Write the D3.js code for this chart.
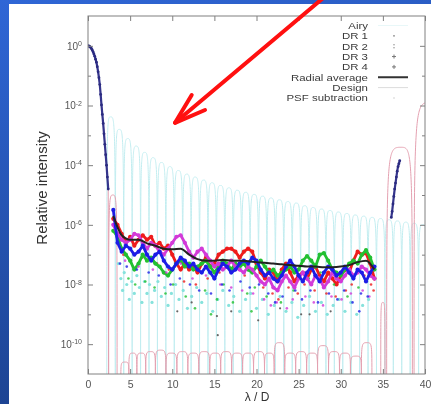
<!DOCTYPE html>
<html><head><meta charset="utf-8">
<script src="https://cdn.jsdelivr.net/npm/d3@7/dist/d3.min.js"></script>
<style>html,body{margin:0;padding:0;background:#fff;overflow:hidden}text{font-family:"Liberation Sans",Arial,sans-serif}</style>
</head><body>
<svg id="c" width="431" height="404"></svg>
<script>
// ---------------- DATA (values are log10 of relative intensity) ----------------
const xTicks = [0,5,10,15,20,25,30,35,40];
const yTickExp = [0,-2,-4,-6,-8,-10];
const yMinorExp = [-1,-3,-5,-7,-9];
const legendLabels = ["Airy","DR 1","DR 2","DR 3","DR 4","Radial average","Design","PSF subtraction"];

// measured core (dark points)
const coreX   = [0,0.1,0.2,0.3,0.4,0.5,0.6,0.7,0.8,0.9,1.0,1.1,1.2,1.3,1.4,1.5,1.6,1.7,1.8,1.9,2.0,2.1,2.2,2.3,2.4];
const coreLog = [0,-0.005,-0.02,-0.05,-0.09,-0.14,-0.2,-0.27,-0.35,-0.45,-0.55,-0.7,-0.87,-1.07,-1.3,-1.63,-1.98,-2.3,-2.6,-2.95,-3.3,-3.65,-4.0,-4.4,-4.8];
const outerX   = [36.0,36.1,36.2,36.3,36.4,36.5,36.6,36.7,36.8,36.9,37.0];
const outerLog = [-5.75,-5.55,-5.3,-5.05,-4.8,-4.6,-4.4,-4.2,-4.05,-3.95,-3.85];

// Airy rings (zeros and ring maxima)
const airyZeros = [2.23,3.24,4.24,5.24,6.24,7.24,8.24,9.24,10.24,11.24,12.24,13.24,14.24,15.24,16.24,17.24,18.24,19.24,20.24,21.24,22.24,23.24,24.24,25.24,26.24,27.24,28.24,29.24,30.24,31.24,32.24,33.24,34.24,35.24,36.24,37.24,38.24,39.24,40.24];
const airyPeakX = [2.68,3.70,4.71,5.72,6.72,7.72,8.72,9.72,10.72,11.72,12.72,13.72,14.72,15.72,16.72,17.72,18.72,19.72,20.72,21.72,22.72,23.72,24.72,25.72,26.72,27.72,28.72,29.72,30.72,31.72,32.72,33.72,34.72,35.72,36.72,37.72,38.72,39.72];
const airyPeakLog = [-2.38,-2.80,-3.11,-3.36,-3.57,-3.75,-3.91,-4.05,-4.18,-4.30,-4.40,-4.50,-4.59,-4.68,-4.76,-4.84,-4.91,-4.98,-5.04,-5.10,-5.16,-5.22,-5.27,-5.36,-5.42,-5.47,-5.52,-5.57,-5.62,-5.67,-5.71,-5.75,-5.79,-5.83,-5.87,-5.91,-5.95,-5.99];

// Design PSF: core then lobes
const designCoreX   = [0,0.2,0.4,0.6,0.8,1.0,1.2,1.4,1.6,1.8,2.0,2.2,2.4,2.45];
const designCoreLog = [0,-0.02,-0.09,-0.2,-0.35,-0.55,-0.87,-1.3,-1.98,-2.6,-3.3,-4.0,-4.8,-12];
const designLobeL   = [2.45,3.9,4.85,5.8,6.85,8.0,9.25,10.55,11.85,13.15,14.45,15.75,17.05,18.35,19.65,20.95,22.1,23.35,24.65,25.95,27.25,28.55,29.85,31.15,32.45,34.75,35.45,38.7];
const designLobePX  = [2.95,4.4,5.3,6.3,7.4,8.6,9.9,11.2,12.5,13.8,15.1,16.4,17.7,19.0,20.3,21.5,22.7,24.0,25.3,26.6,27.9,29.2,30.5,31.8,33.1,35.0,37.15,40.6];
const designLobeLog = [-5.0,-10.6,-10.3,-10.3,-10.25,-10.2,-10.3,-10.25,-10.3,-10.25,-10.3,-10.25,-10.3,-10.3,-10.25,-10.3,-9.95,-10.3,-10.25,-10.3,-10.05,-10.25,-10.3,-10.4,-9.95,-8.6,-3.4,-1.9];
const designLobeR   = [3.45,4.85,5.8,6.85,8.0,9.25,10.55,11.85,13.15,14.45,15.75,17.05,18.35,19.65,20.95,22.1,23.35,24.65,25.95,27.25,28.55,29.85,31.15,32.45,33.7,35.25,38.5,42.5];

// Dark-hole profiles of the four data runs
const drX = [3.0,3.5,4.0,4.5,5.0,5.5,6.0,6.5,7.0,7.5,8.0,8.5,9.0,9.5,10.0,10.5,11.0,11.5,12.0,12.5,13.0,13.5,14.0,14.5,15.0,15.5,16.0,16.5,17.0,17.5,18.0,18.5,19.0,19.5,20.0,20.5,21.0,21.5,22.0,22.5,23.0,23.5,24.0,24.5,25.0,25.5,26.0,26.5,27.0,27.5,28.0,28.5,29.0,29.5,30.0,30.5,31.0,31.5,32.0,32.5,33.0,33.5,34.0];
const dr1 = [-5.8,-6.0,-6.3,-6.6,-6.4,-6.7,-6.5,-6.35,-6.5,-6.4,
             -6.7,-6.6,-6.8,-6.7,-7.0,-7.3,-7.5,-7.3,-7.5,-7.4,
             -7.6,-7.3,-7.1,-7.4,-7.3,-7.0,-6.9,-6.8,-6.8,-6.9,
             -7.1,-6.9,-6.8,-6.9,-7.3,-7.6,-7.8,-7.5,-7.6,-7.9,
             -7.5,-7.3,-7.6,-7.9,-7.7,-7.6,-7.8,-7.5,-7.4,-7.7,
             -7.9,-7.6,-7.8,-8.0,-7.7,-7.5,-7.6,-7.2,-6.9,-7.0,
             -6.95,-7.3,-7.8];
const dr2 = [-6.2,-6.4,-6.8,-7.0,-7.2,-7.5,-7.3,-7.0,-7.2,-7.1,
             -7.3,-7.4,-7.6,-7.7,-7.5,-7.3,-7.2,-7.4,-7.3,-7.5,
             -7.4,-7.3,-7.2,-7.4,-7.6,-7.4,-7.2,-7.3,-7.5,-7.3,
             -7.4,-7.3,-7.5,-7.6,-7.4,-7.2,-7.4,-7.6,-7.5,-7.7,
             -7.6,-7.5,-7.4,-7.6,-7.5,-7.2,-7.05,-7.2,-7.4,-7.0,
             -6.95,-7.2,-7.5,-7.6,-7.7,-7.5,-7.3,-7.2,-7.3,-7.0,
             -6.85,-7.1,-7.5];
const dr3 = [-5.5,-6.6,-6.9,-6.7,-6.8,-7.0,-6.9,-6.7,-7.0,-7.2,
             -7.0,-6.9,-7.2,-7.4,-7.5,-7.3,-7.1,-7.2,-7.4,-7.3,
             -7.5,-7.6,-7.4,-7.6,-7.8,-7.5,-7.3,-7.4,-7.6,-7.5,
             -7.3,-7.2,-7.3,-7.1,-7.2,-7.5,-7.7,-7.6,-7.8,-7.9,
             -7.7,-7.4,-7.2,-7.4,-7.7,-7.9,-7.6,-7.4,-7.7,-7.9,
             -7.6,-7.4,-7.5,-7.7,-7.6,-7.4,-7.6,-7.8,-7.5,-7.6,
             -7.9,-7.6,-7.4];
const dr4 = [-6.0,-6.3,-6.5,-6.6,-6.5,-6.3,-6.35,-6.6,-6.8,-6.6,
             -6.7,-6.9,-7.0,-6.8,-6.6,-6.4,-6.35,-6.6,-6.9,-7.1,
             -6.9,-6.8,-7.0,-7.2,-7.4,-7.3,-7.5,-7.4,-7.2,-7.4,
             -7.5,-7.6,-7.4,-7.5,-7.7,-7.9,-8.0,-7.8,-8.1,-8.2,
             -7.9,-7.7,-7.9,-8.1,-7.8,-7.6,-7.8,-8.0,-7.7,-7.8,
             -8.1,-7.9,-7.6,-7.8,-7.9,-7.7,-7.5,-7.7,-7.6,-7.4,
             -7.5,-7.7,-7.8];

// scattered low points of each run [x, log10]
const dr1Low = [[4.2,-7.0],[5.1,-7.2],[6.4,-7.1],[8.2,-7.3],[9.6,-7.5],[11.4,-7.9],[12.8,-8.0],[14.2,-7.8],[15.6,-7.6],[17.4,-7.5],[18.6,-7.7],[20.8,-8.1],[21.9,-8.3],[22.6,-8.5],[23.8,-8.1],[24.9,-8.3],[25.7,-8.0],[26.9,-8.2],[28.3,-8.3],[29.4,-8.4],[30.6,-8.2],[31.3,-8.0],[32.8,-7.7],[33.6,-8.0],[33.9,-8.2]];
const dr2Low = [[4.8,-7.8],[5.6,-8.0],[6.8,-7.9],[7.9,-8.1],[9.2,-8.3],[10.1,-8.0],[11.6,-8.4],[12.7,-8.8],[13.9,-8.2],[15.3,-8.5],[16.1,-8.0],[17.2,-8.6],[18.9,-8.3],[19.8,-8.1],[21.2,-8.4],[22.9,-8.6],[24.4,-8.2],[26.2,-7.8],[27.6,-7.6],[29.2,-8.0],[30.8,-8.4],[32.1,-8.1],[33.3,-7.7],[14.6,-9.0],[19.4,-8.9]];
const dr3Low = [[3.8,-7.3],[4.6,-7.4],[5.8,-7.5],[7.2,-7.6],[8.4,-7.7],[9.8,-8.0],[10.9,-7.8],[12.1,-8.0],[13.2,-8.2],[14.6,-8.3],[15.9,-8.0],[16.8,-8.2],[18.1,-7.9],[19.2,-8.1],[20.3,-8.0],[21.4,-8.3],[22.2,-8.6],[23.1,-8.4],[24.6,-8.2],[25.4,-8.5],[26.4,-8.2],[27.3,-8.6],[28.6,-8.3],[29.6,-8.5],[30.4,-8.2],[31.4,-8.6],[32.2,-8.9],[32.4,-8.3],[33.2,-8.4]];
const dr4Low = [[4.4,-7.2],[6.0,-7.4],[7.7,-7.5],[9.3,-7.6],[11.0,-7.3],[12.4,-7.8],[14.0,-7.7],[15.7,-8.0],[17.0,-8.1],[18.3,-8.2],[19.6,-8.3],[20.9,-8.5],[21.7,-8.7],[22.4,-8.6],[23.6,-8.8],[24.3,-8.5],[25.8,-8.4],[26.8,-8.6],[27.9,-8.7],[28.9,-8.4],[30.1,-8.5],[31.2,-8.3],[32.6,-8.2],[33.4,-8.4]];
const darkLow = [[12.3,-8.6],[15.3,-9.06],[15.4,-9.7],[17.0,-8.9],[22.8,-8.8],[25.3,-9.0],[26.3,-9.0],[28.8,-8.9],[20.2,-9.2],[10.6,-8.9]];

// radial average
const avgX   = [3,4,5,6,7,8,9,10,11,12,13,14,15,16,17,18,19,20,21,22,23,24,25,26,27,28,29,30,31,32,33,34];
const avgLog = [-5.7,-6.35,-6.5,-6.5,-6.62,-6.7,-6.8,-6.82,-6.8,-7.0,-7.15,-7.2,-7.2,-7.18,-7.2,-7.2,-7.22,-7.25,-7.27,-7.3,-7.32,-7.35,-7.37,-7.4,-7.4,-7.42,-7.42,-7.4,-7.35,-7.25,-7.2,-7.5];

// PSF subtraction residuals [x, log10]
const psfSub = [[3.6,-7.3],[3.9,-7.8],[4.1,-8.2],[4.3,-7.6],[4.6,-8.0],[4.9,-8.5],[5.2,-7.9],[5.5,-8.3],[5.8,-7.7],[6.1,-8.1],[6.4,-8.6],[6.7,-7.9],[7.0,-8.3],[7.3,-8.0],[7.6,-8.6],[7.9,-8.2],[8.3,-7.9],[8.7,-8.4],[9.1,-8.1],[9.5,-8.7],[9.9,-8.3],[10.4,-8.0],[10.8,-8.5],[11.3,-8.2],[11.8,-8.8],[12.3,-8.4],[12.9,-8.1],[13.5,-8.6],[14.1,-8.3],[14.8,-8.9],[15.4,-8.5],[16.0,-8.2],[16.7,-8.7],[17.3,-8.4],[18.0,-8.9],[18.7,-8.5],[19.3,-8.3],[20.0,-8.8],[20.7,-8.5],[21.4,-9.0],[22.1,-8.7],[22.8,-8.4],[23.5,-8.9],[24.2,-8.6],[24.9,-9.1],[25.6,-8.7],[26.3,-8.4],[27.0,-8.9],[27.7,-8.6],[28.4,-9.0],[29.1,-8.7],[29.8,-8.5],[30.5,-8.9],[31.2,-8.6],[31.9,-9.0],[32.6,-8.7],[33.3,-8.5]];

// annotation arrow (data coordinates: [lambda/D, log10])
const arrowLine = [[27.9,1.6],[10.33,-2.58]];
const arrowHead = [[12.31,-1.65],[10.33,-2.58],[13.89,-2.15]];

// ---------------- DRAWING ----------------
const FONT = 'Liberation Sans, Arial, sans-serif';
const svg = d3.select('#c');
const defs = svg.append('defs');
const grad = defs.append('linearGradient').attr('id','bg').attr('x1',0).attr('y1',0).attr('x2',0.25).attr('y2',1);
grad.append('stop').attr('offset','0%').attr('stop-color','#2f66d6');
grad.append('stop').attr('offset','100%').attr('stop-color','#1c428f');
defs.append('filter').attr('id','soft').attr('x',-0.05).attr('y',-0.05).attr('width',1.1).attr('height',1.1)
  .append('feGaussianBlur').attr('stdDeviation',0.55);
defs.append('clipPath').attr('id','pc').append('rect').attr('x',88).attr('y',16).attr('width',337).attr('height',358);

svg.append('rect').attr('width',431).attr('height',404).attr('fill','url(#bg)');
svg.append('rect').attr('x',9).attr('y',4).attr('width',422).attr('height',400).attr('fill','#fff');

const x = d3.scaleLinear().domain([0,40]).range([88,425]);
const y = d3.scaleLog().domain([1e-11,1e1]).range([374,16]);
const Y = v => y(Math.pow(10,v));

const g = svg.append('g').attr('filter','url(#soft)');
const p = g.append('g').attr('clip-path','url(#pc)');
const yBot = 380;

function lobe(a,pk,v,b){
  const xa=x(a), xp=x(pk), xb=x(b), yp=Y(v);
  return `M${xa},${yBot}C${xa},${yp} ${xa},${yp} ${xp},${yp}C${xb},${yp} ${xb},${yp} ${xb},${yBot}`;
}

// Airy rings
p.append('g').selectAll('path').data(airyPeakX).join('path')
  .attr('d',(d,i)=>lobe(airyZeros[i],d,airyPeakLog[i],airyZeros[i+1]))
  .attr('fill','none').attr('stroke','#c2edf0').attr('stroke-width',1);

// Design
const line = d3.line().x(d=>x(d[0])).y(d=>Y(d[1]));
p.append('path').datum(designCoreX.map((d,i)=>[d,designCoreLog[i]])).attr('d',line)
  .attr('fill','none').attr('stroke','#e4a0b0').attr('stroke-width',1);
p.append('g').selectAll('path').data(designLobePX).join('path')
  .attr('d',(d,i)=>lobe(designLobeL[i],d,designLobeLog[i],designLobeR[i]))
  .attr('fill','none').attr('stroke','#e4a0b0').attr('stroke-width',1);

// PSF subtraction
p.append('g').selectAll('circle').data(psfSub).join('circle')
  .attr('cx',d=>x(d[0])).attr('cy',d=>Y(d[1])).attr('r',1.6).attr('fill','#86e2dc');
p.append('g').selectAll('circle').data(darkLow).join('circle')
  .attr('cx',d=>x(d[0])).attr('cy',d=>Y(d[1])).attr('r',1.1).attr('fill','#666');

// data runs
const runs = [
  {v:dr1, low:dr1Low, c:'#ee1c1c'},
  {v:dr2, low:dr2Low, c:'#22c030'},
  {v:dr4, low:dr4Low, c:'#d23ad8'},
  {v:dr3, low:dr3Low, c:'#1f1fe6'}
];
runs.forEach(r=>{
  const pts = drX.map((d,i)=>[d,r.v[i]]);
  const gg = p.append('g');
  gg.selectAll('circle.l').data(r.low).join('circle').attr('class','l')
    .attr('cx',d=>x(d[0])).attr('cy',d=>Y(d[1])).attr('r',1.3).attr('fill',r.c).attr('opacity',0.8);
  gg.append('path').datum(pts).attr('d',line).attr('fill','none').attr('stroke',r.c).attr('stroke-width',2.8).attr('stroke-linejoin','round');
  gg.selectAll('circle.p').data(pts).join('circle').attr('class','p')
    .attr('cx',d=>x(d[0])).attr('cy',d=>Y(d[1])).attr('r',2.1).attr('fill',r.c);
});

// measured core
const corePts = coreX.map((d,i)=>[d,coreLog[i]]);
const outerPts = outerX.map((d,i)=>[d,outerLog[i]]);
[corePts, outerPts].forEach(pts=>{
  p.append('path').datum(pts).attr('d',line).attr('fill','none').attr('stroke','#34348c').attr('stroke-width',2.2);
  p.append('g').selectAll('circle').data(pts).join('circle')
    .attr('cx',d=>x(d[0])).attr('cy',d=>Y(d[1])).attr('r',1.4).attr('fill','#2c2c80');
});

// radial average
p.append('path').datum(avgX.map((d,i)=>[d,avgLog[i]]))
  .attr('d',d3.line().x(d=>x(d[0])).y(d=>Y(d[1])).curve(d3.curveMonotoneX))
  .attr('fill','none').attr('stroke','#222').attr('stroke-width',2);

// border
g.append('rect').attr('x',88).attr('y',16).attr('width',337).attr('height',358)
  .attr('fill','none').attr('stroke','#808080').attr('stroke-width',1);

// axes
const tickCol = '#808080';
function styleAxis(sel){ sel.select('.domain').remove(); sel.selectAll('.tick line').attr('stroke',tickCol); }
const xa = g.append('g').attr('transform','translate(0,374)')
  .call(d3.axisBottom(x).tickValues(xTicks).tickSizeInner(-5).tickSizeOuter(0).tickPadding(6.5).tickFormat(d3.format('d')));
styleAxis(xa);
xa.attr('font-family',FONT);
xa.selectAll('.tick text').attr('font-size','10.5px').attr('fill','#555');
const xt = g.append('g').attr('transform','translate(0,16)')
  .call(d3.axisTop(x).tickValues(xTicks).tickSizeInner(-5).tickSizeOuter(0).tickFormat(''));
styleAxis(xt);

const yVals = yTickExp.map(e=>Math.pow(10,e));
const yMin = yMinorExp.map(e=>Math.pow(10,e));
const ya = g.append('g').attr('transform','translate(88,0)')
  .call(d3.axisLeft(y).tickValues(yVals).tickSizeInner(-5).tickSizeOuter(0).tickPadding(6).tickFormat(''));
styleAxis(ya);
ya.attr('font-family',FONT);
ya.selectAll('.tick text').attr('font-size','10px').attr('fill','#555')
  .each(function(d){
    const t = d3.select(this);
    t.append('tspan').text('10');
    t.append('tspan').attr('dy','-0.5em').attr('font-size','7px').text(String(Math.round(Math.log10(d))));
  });
const yr = g.append('g').attr('transform','translate(425,0)')
  .call(d3.axisRight(y).tickValues(yVals).tickSizeInner(-5).tickSizeOuter(0).tickFormat(''));
styleAxis(yr);
[[88,d3.axisLeft],[425,d3.axisRight]].forEach(([tx,ax])=>{
  const m = g.append('g').attr('transform',`translate(${tx},0)`)
    .call(ax(y).tickValues(yMin).tickSizeInner(-3).tickSizeOuter(0).tickFormat(''));
  styleAxis(m);
});

// axis titles
g.append('text').attr('transform','translate(47,188) rotate(-90)').attr('text-anchor','middle')
  .attr('font-family',FONT).attr('font-size','15px').attr('fill','#333').text('Relative intensity');
g.append('text').attr('x',257).attr('y',401.3).attr('text-anchor','middle')
  .attr('font-family',FONT).attr('font-size','12px').attr('fill','#333').text('λ / D');

// legend
const lg = g.append('g').attr('font-family',FONT);
const ly = i => 25.5 + i*10.35;
lg.selectAll('text').data(legendLabels).join('text')
  .attr('x',368).attr('y',(d,i)=>ly(i)+3.3).attr('text-anchor','end')
  .attr('font-family',FONT).attr('font-size','9.1px').attr('fill','#3a3a3a').text(d=>d)
  .each(function(){
    const w = this.getComputedTextLength();
    d3.select(this).attr('textLength', w*1.26).attr('lengthAdjust','spacingAndGlyphs');
  });
// samples
lg.append('line').attr('x1',378).attr('x2',408).attr('y1',ly(0)).attr('y2',ly(0)).attr('stroke','#e8f7f8').attr('stroke-width',1);
lg.append('circle').attr('cx',394).attr('cy',ly(1)).attr('r',0.9).attr('fill','#888');
lg.append('circle').attr('cx',394).attr('cy',ly(2)-1.5).attr('r',0.8).attr('fill','#999');
lg.append('circle').attr('cx',394).attr('cy',ly(2)+1.5).attr('r',0.8).attr('fill','#999');
[3,4].forEach(i=>{
  lg.append('path').attr('d',`M392,${ly(i)}h4M394,${ly(i)-2}v4`).attr('stroke','#777').attr('stroke-width',1);
});
lg.append('line').attr('x1',378).attr('x2',408).attr('y1',ly(5)).attr('y2',ly(5)).attr('stroke','#333').attr('stroke-width',2);
lg.append('line').attr('x1',378).attr('x2',408).attr('y1',ly(6)).attr('y2',ly(6)).attr('stroke','#dcdcdc').attr('stroke-width',1);
lg.append('circle').attr('cx',394).attr('cy',ly(7)).attr('r',0.8).attr('fill','#ccc');

// red annotation arrow
const aLine = d3.line().x(d=>x(d[0])).y(d=>Y(d[1]));
svg.append('path').datum(arrowLine).attr('d',aLine).attr('fill','none').attr('stroke','#ff1010').attr('stroke-width',4).attr('stroke-linecap','round');
svg.append('path').datum(arrowHead).attr('d',aLine).attr('fill','none').attr('stroke','#ff1010').attr('stroke-width',4).attr('stroke-linecap','round').attr('stroke-linejoin','round');
</script>
</body></html>
